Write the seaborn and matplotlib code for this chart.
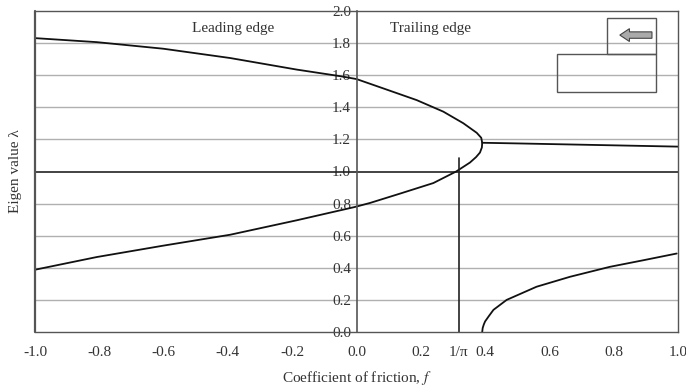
import numpy as np
import pandas as pd
import matplotlib
matplotlib.use("Agg")
import matplotlib.pyplot as plt
from matplotlib.patches import Rectangle, FancyArrow
import seaborn as sns

# Main loop branch (lower -> nose -> upper)
loop_f = [-1.0, -0.808, -0.601, -0.393, -0.186, -0.005, 0.042, 0.135, 0.239, 0.31, 0.353,
          0.372, 0.384, 0.39, 0.391, 0.388, 0.374, 0.332, 0.27, 0.187, 0.083, 0.0,
          -0.051, -0.186, -0.393, -0.601, -0.808, -1.0]
loop_lam = [0.388, 0.467, 0.538, 0.606, 0.696, 0.779, 0.804, 0.862, 0.928, 1.0, 1.056,
            1.09, 1.118, 1.15, 1.179, 1.21, 1.241, 1.301, 1.373, 1.445, 1.518, 1.576,
            1.594, 1.635, 1.707, 1.765, 1.806, 1.831]

# Flat branch to the right of the nose
flat_f = [0.391, 0.5, 0.7, 0.85, 1.0]
flat_lam = [1.179, 1.175, 1.167, 1.161, 1.155]

# Lower right branch
low_f = [0.391, 0.3925, 0.396, 0.400, 0.412, 0.426, 0.467, 0.56, 0.664, 0.788, 0.892, 0.996]
low_lam = [0.0, 0.025, 0.047, 0.066, 0.1, 0.138, 0.2, 0.282, 0.344, 0.406, 0.447, 0.489]

x_ticks = [-1.0, -0.8, -0.6, -0.4, -0.2, 0.0, 0.2, 1/np.pi, 0.4, 0.6, 0.8, 1.0]
x_labels = ["-1.0", "-0.8", "-0.6", "-0.4", "-0.2", "0.0", "0.2", "1/π", "0.4", "0.6", "0.8", "1.0"]
y_ticks = [0.0, 0.2, 0.4, 0.6, 0.8, 1.0, 1.2, 1.4, 1.6, 1.8, 2.0]
y_labels = [f"{v:.1f}" for v in y_ticks]

sns.set_style("white")
plt.rcParams['font.family'] = ['Liberation Serif', 'DejaVu Serif']
plt.rcParams['mathtext.fontset'] = 'stix'

fig = plt.figure(figsize=(6.86, 3.89), dpi=100)
ax = fig.add_axes([35/686, 1 - 332/389, (678-35)/686, (332-11)/389])

# gridlines
for v in y_ticks[1:-1]:
    if abs(v - 1.0) < 1e-9:
        continue
    ax.axhline(v, color="#b0b0b0", lw=1.0, zorder=0)
ax.axhline(1.0, color="#222222", lw=1.2, zorder=1)

df1 = pd.DataFrame({"f": loop_f, "lam": loop_lam})
df2 = pd.DataFrame({"f": flat_f, "lam": flat_lam})
df3 = pd.DataFrame({"f": low_f, "lam": low_lam})
for d in (df1, df2, df3):
    sns.lineplot(data=d, x="f", y="lam", sort=False, estimator=None, color="#111111",
                 lw=1.3, ax=ax)

# vertical line at 1/pi
ax.plot([1/np.pi, 1/np.pi], [0, 1.086], color="#222222", lw=1.2)

ax.set_xlim(-1, 1)
ax.set_ylim(0, 2)

# spines
for s in ["top", "right", "bottom"]:
    ax.spines[s].set_visible(True)
    ax.spines[s].set_color("#555555")
    ax.spines[s].set_linewidth(1.0)
ax.spines["left"].set_position(("data", 0))
ax.spines["left"].set_color("#555555")
ax.spines["left"].set_linewidth(1.2)
ax.axvline(-1, color="#555555", lw=1.6, clip_on=False)

ax.set_xticks(x_ticks)
ax.set_xticklabels(x_labels, fontsize=11)
ax.set_yticks(y_ticks)
ax.set_yticklabels(y_labels, fontsize=11)
ax.tick_params(axis="x", direction="out", length=4, color="#555555", pad=6)
ax.tick_params(axis="y", direction="inout", length=6, color="#555555", pad=1)
for lbl in ax.get_yticklabels():
    lbl.set_color("#333333")
for lbl in ax.get_xticklabels():
    lbl.set_color("#333333")

ax.set_xlabel("Coefficient of friction, $\\it{f}$", fontsize=11, color="#333333", labelpad=7)
ax.set_ylabel("Eigen value λ", fontsize=11, color="#333333")
ax.yaxis.set_label_coords(-0.02, 0.5)

ax.text(-0.384, 1.894, "Leading edge", ha="center", va="center", fontsize=11, color="#333333")
ax.text(0.229, 1.894, "Trailing edge", ha="center", va="center", fontsize=11, color="#333333")

# inset sketch
ax.add_patch(Rectangle((0.779, 1.732), 0.153, 0.224, fill=False, ec="#555555", lw=1.0))
ax.add_patch(Rectangle((0.624, 1.495), 0.308, 0.237, fill=False, ec="#555555", lw=1.0))
ax.add_patch(FancyArrow(0.919, 1.85, -0.1, 0, width=0.04, head_width=0.08, head_length=0.03,
                        length_includes_head=True, fc="#aaaaaa", ec="#444444", lw=0.8))

fig.savefig("out.png", dpi=100)
